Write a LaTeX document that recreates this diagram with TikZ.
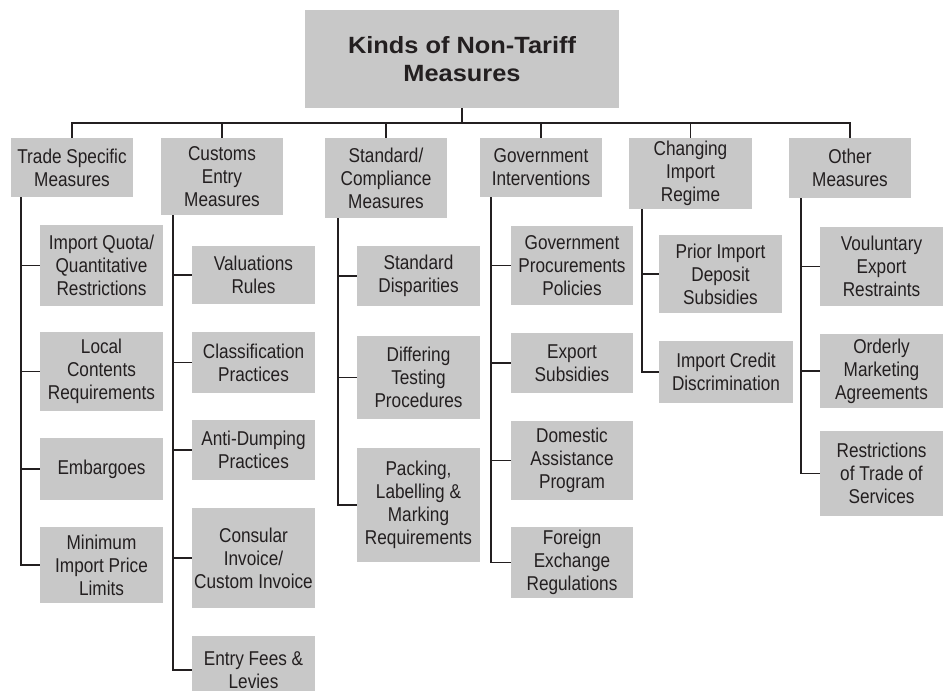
\documentclass[tikz,border=0pt]{standalone}
\usepackage{fontspec}
\setmainfont{Liberation Sans}[FakeStretch=0.86]
\newfontfamily\headfont{Liberation Sans}[FakeStretch=1.08]
\definecolor{boxfill}{HTML}{C8C8C8}
\definecolor{ink}{HTML}{231F20}
\tikzset{
  box/.style={fill=boxfill, draw=none, inner sep=0pt, align=center,
    text=ink, font=\fontsize{20}{23}\selectfont},
  link/.style={draw=ink, line width=1.6pt},
}
% place a box by its corners: \bx{name}{x1}{y1}{x2}{y2}{text}
\newcommand{\bx}[6]{%
  \node[box, minimum width={#4-#2}, minimum height={#5-#3}]
    (#1) at ({(#2+#4)/2},{(#3+#5)/2}) {#6};}
\begin{document}
\begin{tikzpicture}[x=1pt, y=-1pt]
\useasboundingbox (0,0) rectangle (951,691);
\clip (0,0) rectangle (951,691);
\fill[white] (0,0) rectangle (951,691);

% root
\node[box, minimum width=314, minimum height=98,
  font=\headfont\fontsize{23.5}{28.4}\selectfont\bfseries]
  (title) at (462,59) {Kinds of Non-Tariff\\Measures};

% categories
\bx{c1}{11}{138}{133}{197}{Trade Specific\\Measures}
\bx{c2}{161}{138}{283}{215}{Customs\\Entry\\Measures}
\bx{c3}{325}{138}{447}{218}{Standard/\\Compliance\\Measures}
\bx{c4}{480}{138}{602}{197}{Government\\Interventions}
\bx{c5}{629}{138}{752}{209}{Changing\\Import\\Regime}
\bx{c6}{789}{138}{911}{198}{Other\\Measures}

% trade specific
\bx{a1}{40}{225}{163}{306}{Import Quota/\\Quantitative\\Restrictions}
\bx{a2}{40}{332}{163}{411}{Local\\Contents\\Requirements}
\bx{a3}{40}{438}{163}{500}{Embargoes}
\bx{a4}{40}{527}{163}{603}{Minimum\\Import Price\\Limits}

% customs entry
\bx{b1}{192}{246}{315}{304}{Valuations\\Rules}
\bx{b2}{192}{332}{315}{393}{Classification\\Practices}
\bx{b3}{192}{420}{315}{480}{Anti-Dumping\\Practices}
\bx{b4}{192}{508}{315}{608}{Consular\\Invoice/\\Custom Invoice}
\bx{b5}{192}{636}{315}{704}{Entry Fees \&\\Levies}

% standard / compliance
\bx{d1}{357}{246}{480}{306}{Standard\\Disparities}
\bx{d2}{357}{336}{480}{419}{Differing\\Testing\\Procedures}
\bx{d3}{357}{448}{480}{562}{Packing,\\Labelling \&\\Marking\\Requirements}

% government interventions
\bx{e1}{511}{226}{633}{305}{Government\\Procurements\\Policies}
\bx{e2}{511}{333}{633}{393}{Export\\Subsidies}
\bx{e3}{511}{421}{633}{500}{Domestic\\Assistance\\Program}
\bx{e4}{511}{527}{633}{598}{Foreign\\Exchange\\Regulations}

% changing import regime
\bx{f1}{659}{235}{782}{313}{Prior Import\\Deposit\\Subsidies}
\bx{f2}{659}{341}{793}{403}{Import Credit\\Discrimination}

% other measures
\bx{g1}{820}{227}{943}{306}{Vouluntary\\Export\\Restraints}
\bx{g2}{820}{334}{943}{408}{Orderly\\Marketing\\Agreements}
\bx{g3}{820}{431}{943}{516}{Restrictions\\of Trade of\\Services}

% top bar joining the categories
\coordinate (bar) at (0,123);
\draw[link] (title.south) -- (title.south |- bar);
\draw[link] (c1.north) -- (c1.north |- bar) -- (c6.north |- bar) -- (c6.north);
\foreach \c in {c2,c3,c4,c5}
  \draw[link] (\c.north) -- (\c.north |- bar);

% spines down the left of each column
\coordinate (s1) at ([xshift=10pt]c1.south west);
\coordinate (s2) at ([xshift=12pt]c2.south west);
\coordinate (s3) at ([xshift=13pt]c3.south west);
\coordinate (s4) at ([xshift=11pt]c4.south west);
\coordinate (s5) at ([xshift=13pt]c5.south west);
\coordinate (s6) at ([xshift=12pt]c6.south west);

\draw[link] (s1) |- (a4.west);
\foreach \k in {a1,a2,a3} \draw[link] (\k.west) -- (\k.west -| s1);
\draw[link] (s2) |- (b5.west);
\foreach \k in {b1,b2,b3,b4} \draw[link] (\k.west) -- (\k.west -| s2);
\draw[link] (s3) |- (d3.west);
\foreach \k in {d1,d2} \draw[link] (\k.west) -- (\k.west -| s3);
\draw[link] (s4) |- (e4.west);
\foreach \k in {e1,e2,e3} \draw[link] (\k.west) -- (\k.west -| s4);
\draw[link] (s5) |- (f2.west);
\draw[link] (f1.west) -- (f1.west -| s5);
\draw[link] (s6) |- (g3.west);
\foreach \k in {g1,g2} \draw[link] (\k.west) -- (\k.west -| s6);
\end{tikzpicture}
\end{document}
